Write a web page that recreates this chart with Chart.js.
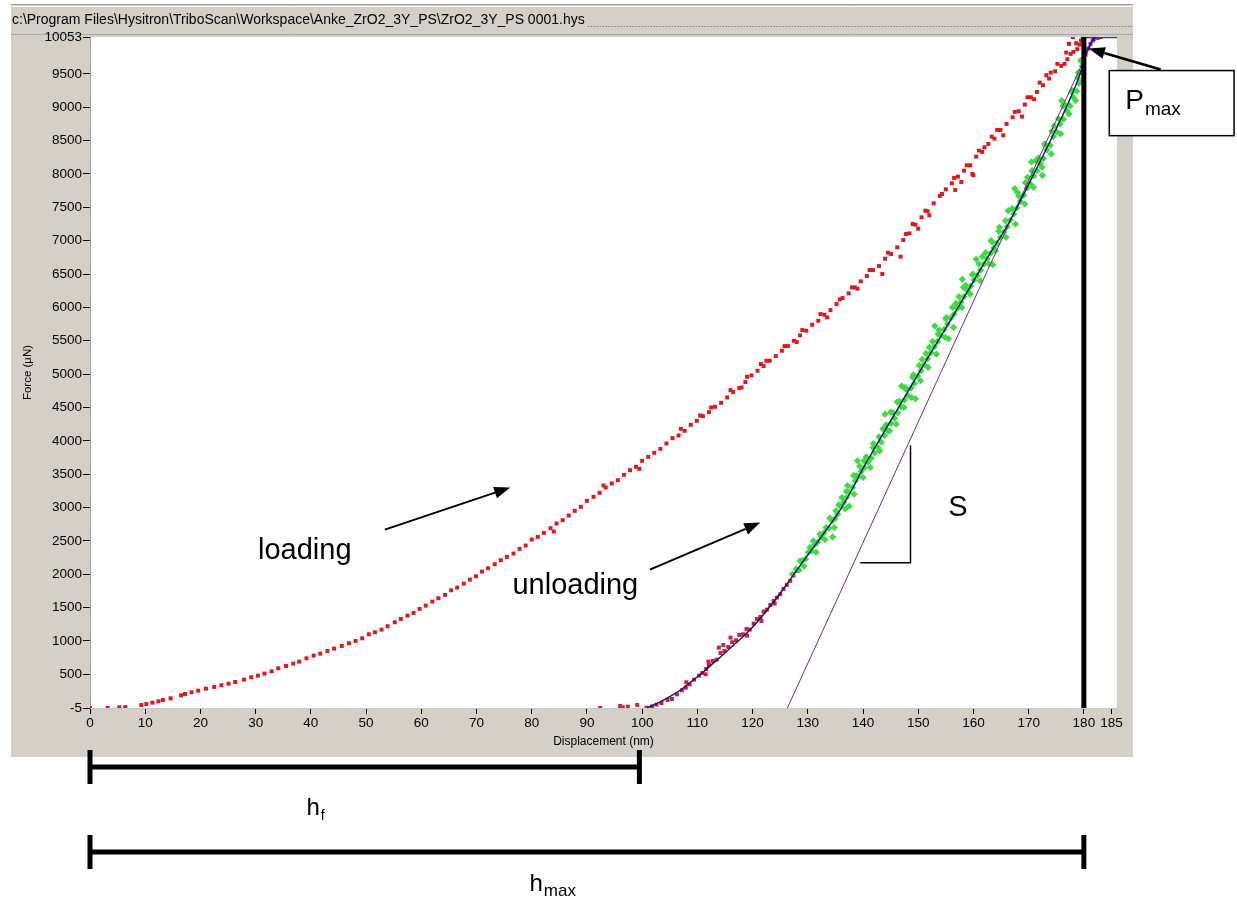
<!DOCTYPE html>
<html><head><meta charset="utf-8">
<script src="https://cdn.jsdelivr.net/npm/chart.js@4/dist/chart.umd.min.js"></script>
<style>html,body{margin:0;padding:0;background:#fff;overflow:hidden}canvas{display:block}</style>
</head><body>
<canvas id="c" width="1237" height="899"></canvas>
<script>
const titleText = 'c:\\Program Files\\Hysitron\\TriboScan\\Workspace\\Anke_ZrO2_3Y_PS\\ZrO2_3Y_PS 0001.hys';
const xTickLabels = [0,10,20,30,40,50,60,70,80,90,100,110,120,130,140,150,160,170,180,185];
const yTickLabels = [-5,500,1000,1500,2000,2500,3000,3500,4000,4500,5000,5500,6000,6500,7000,7500,8000,8500,9000,9500,10053];
const xRange = [0,186];
const yRange = [-5,10053];

const loadingPts = [[0,-5],[3.2,-5],[5.3,5],[6.4,10],[9.3,40],[10.2,55],[11.3,75],[12.4,95],[13.2,115],[14.6,140],[16.5,185],[17.2,205],[18.4,230],[19.6,255],[21.0,285],[22.5,310],[23.8,335],[25.1,360],[26.3,385],[27.9,420],[29.2,455],[30.4,480],[31.6,510],[32.9,545],[34.1,590],[35.5,625],[36.8,660],[37.9,690],[39.2,740],[40.5,780],[41.7,810],[43.0,850],[44.2,885],[45.6,925],[46.9,965],[48.1,1000],[49.3,1040],[50.5,1100],[51.6,1130],[52.8,1170],[53.9,1220],[55.2,1280],[56.3,1330],[57.5,1380],[58.6,1420],[59.7,1480],[60.8,1530],[62.0,1590],[63.1,1640],[64.3,1690],[65.4,1760],[66.5,1800],[67.7,1860],[68.8,1920],[69.9,1970],[71.0,2040],[72.1,2090],[73.3,2150],[74.4,2210],[75.5,2260],[76.7,2310],[77.8,2380],[78.9,2430],[80.0,2520],[81.1,2560],[82.2,2620],[83.4,2690],[84.5,2760],[85.6,2810],[86.7,2880],[87.8,2950],[88.9,3010],[90.0,3100],[91.2,3160],[92.3,3220],[93.4,3300],[94.5,3360],[95.6,3410],[96.7,3490],[97.8,3560],[98.9,3610],[100.0,3700],[101.1,3760],[102.2,3820],[103.3,3880],[104.4,3960],[105.5,4040],[106.6,4080],[107.7,4150],[108.8,4240],[109.9,4300],[111.0,4370],[112.1,4430],[113.2,4510],[114.3,4570],[115.4,4650],[116.5,4730],[117.6,4790],[118.7,4880],[119.8,4980],[120.9,5050],[122.0,5120],[123.1,5200],[124.2,5270],[125.3,5350],[126.4,5420],[127.5,5500],[128.6,5580],[129.7,5650],[130.8,5740],[131.9,5800],[133.0,5890],[134.1,5960],[135.2,6050],[136.3,6140],[137.4,6210],[138.5,6300],[139.6,6390],[140.7,6470],[141.8,6560],[142.9,6620],[144.0,6730],[145.1,6800],[146.2,6900],[147.3,7010],[148.4,7110],[149.5,7240],[150.6,7350],[151.7,7440],[152.8,7560],[153.9,7670],[155.0,7770],[156.1,7860],[157.2,7960],[158.3,8050],[159.4,8130],[160.5,8260],[161.6,8330],[162.7,8450],[163.8,8530],[164.9,8660],[166.0,8750],[167.1,8850],[168.2,8940],[169.3,9040],[170.4,9150],[171.5,9230],[172.6,9330],[173.7,9430],[174.8,9540],[175.9,9620],[177.0,9720],[178.1,9830],[179.2,9940],[180.0,10053],
[84.0,2640],[93.0,3330],[107.0,4180],[118.0,4800],[121.5,5150],[128.0,5480],[133.5,5850],[139.0,6280],[143.5,6500],[146.8,6760],[150.0,7180],[152.0,7380],[157.8,7880],[159.8,8000],[162.0,8400],[165.4,8580],[168.8,8860],[171.0,9120],[174.0,9520],[176.5,9650],[177.6,9800],[178.8,9870],[179.5,10000],[178.0,10053],[177.3,9950],[156.7,7760],[160.0,7980],[99.5,3580],[110.5,4380],
[112.5,4500],[116.0,4760],[119.0,4960],[122.5,5200],[125.8,5420],[129.0,5660],[132.3,5900],[135.8,6120],[138.0,6300],[141.2,6560],[144.5,6820],[147.8,7100],[149.0,7250],[151.3,7450],[154.3,7700],[156.5,7940],[158.8,8130],[161.0,8350],[163.3,8560],[164.3,8660],[167.5,8930],[169.8,9150],[172.0,9370],[173.2,9480],[175.2,9650],[176.8,9820],[178.6,9960],[179.8,10053]];

const unloadLowPts = [[92.4,-5],[96.0,25],[96.5,5],[97.4,15],[99.1,40],[100.8,0],[101.8,20],[102.6,45],[103.5,70],[104.6,115],[105.4,130],[106.3,200],[107.2,260],[107.9,300],[108.6,350],[109.4,420],[110.3,480],[110.9,520],[111.6,580],[112.1,640],[112.8,700],[113.5,720],[114.2,820],[114.9,850],[115.6,910],[116.3,980],[117.0,1010],[117.6,1090],[118.3,1100],[118.9,1180],[119.5,1170],[120.2,1260],[120.8,1330],[121.4,1360],[122.0,1440],[122.6,1470],[123.2,1540],[123.8,1600],[124.4,1650],[125.0,1700],[125.6,1780],[126.2,1840],[126.8,1900],[127.4,1980],[128.0,2050],[113.9,900],[116.0,1050],[119.0,1080],[111.5,500],[108.0,380],[121.6,1300],[124.0,1560],[114.7,940],[112.0,690]];

const unloadGreenPts = [[127.2,2000],[127.9,2080],[128.4,2060],[129.0,2200],[129.6,2230],[130.1,2330],[130.7,2350],[131.2,2440],[131.0,2500],[131.8,2480],[132.4,2560],[132.9,2620],[133.3,2700],[133.8,2690],[134.4,2800],[134.9,2830],[135.4,2900],[135.1,2950],[136.0,3010],[136.5,3080],[136.2,3150],[137.0,3150],[137.5,3230],[137.2,3330],[138.1,3300],[138.6,3400],[138.3,3480],[139.1,3460],[139.7,3540],[139.4,3620],[140.3,3600],[140.9,3680],[140.6,3760],[141.5,3740],[142.1,3820],[141.8,3900],[142.7,3900],[143.3,3980],[142.9,4060],[143.9,4080],[144.5,4150],[144.2,4240],[145.1,4260],[145.7,4340],[145.4,4420],[146.3,4420],[146.9,4510],[146.6,4590],[147.5,4610],[148.1,4680],[147.8,4770],[148.7,4790],[149.3,4860],[149.0,4950],[149.9,4970],[150.5,5050],[150.2,5130],[151.1,5140],[151.7,5230],[151.4,5310],[152.3,5320],[152.9,5410],[152.6,5490],[153.5,5490],[154.1,5580],[153.8,5660],[154.7,5670],[155.3,5750],[155.0,5830],[155.9,5840],[156.5,5900],[156.2,6000],[157.1,5990],[157.7,6080],[157.4,6160],[158.3,6160],[158.9,6250],[158.6,6330],[159.5,6320],[160.1,6410],[159.8,6490],[160.7,6480],[161.3,6560],[161.0,6650],[161.9,6650],[162.5,6730],[162.2,6820],[163.1,6810],[163.7,6890],[163.4,6980],[164.3,6960],[164.9,7050],[164.6,7140],[165.5,7130],[166.1,7210],[165.8,7300],[166.7,7310],[167.3,7400],[167.0,7480],[167.9,7490],[168.5,7590],[168.2,7670],[169.1,7680],[169.7,7790],[169.4,7870],[170.3,7850],[170.9,7970],[170.6,8050],[171.5,8050],[172.1,8160],[171.8,8240],[172.7,8230],[173.3,8360],[173.0,8440],[173.9,8430],[174.5,8560],[174.2,8640],[175.1,8630],[175.7,8750],[175.4,8830],[176.3,8820],[176.9,8950],[176.6,9030],[177.5,9020],[178.1,9150],[177.8,9230],[178.7,9240],[179.1,9360],[178.9,9440],[179.5,9520],[179.7,9620],[179.4,9700],
[134.5,2560],[139.0,3700],[144.0,4400],[149.5,4630],[153.0,5720],[158.0,6420],[163.5,6640],[167.5,7780],[172.5,7980],[176.0,9100],[170.5,8180],[160.5,6720],[155.5,5530],[147.0,4820],[137.5,3020],
[128.6,2200],[129.3,2120],[130.4,2400],[131.5,2330],[132.2,2600],[133.1,2520],[134.0,2840],[134.8,2700],[135.6,3040],[136.8,2980],[137.0,3240],[138.4,3200],[138.8,3480],[140.0,3450],[140.2,3700],[141.3,3600],[141.9,3960],[143.0,3850],[143.6,4180],[144.8,4150],[145.0,4430],[146.0,4250],[146.2,4580],[147.4,4500],[147.6,4800],[148.8,4650],[149.1,4990],[150.4,4900],[150.7,5220],[151.8,5100],[152.0,5400],[153.3,5300],[153.6,5600],[154.9,5550],[155.1,5850],[156.4,5700],[156.8,6060],[157.9,6000],[158.2,6300],[159.4,6200],[159.9,6500],[161.2,6400],[161.6,6760],[162.8,6650],[163.2,7000],[164.0,6850],[164.7,7200],[165.9,7050],[166.3,7450],[167.6,7250],[168.0,7720],[169.3,7550],[169.8,7950],[170.9,7800],[171.3,8200],[172.4,8100],[172.9,8450],[174.1,8300],[174.6,8720],[175.8,8600],[176.2,9020],[177.3,8900],[177.9,9250],[178.5,9100],[179.0,9520],[179.6,9380]];

const unloadTopPts = [[180.3,9790],[180.8,9880],[181.2,9950],[181.6,10000],[182.0,10053],[183.0,10053],[181.8,10020],[182.5,10040]];

const fitCurve = [[100.9,-5],[103,75],[105,165],[107,268],[109,395],[111,530],[113,675],[115,820],[117,970],[119,1122],[121,1300],[123.7,1572],[126,1830],[128,2060],[130,2290],[132,2510],[134,2740],[135.9,2970],[138,3270],[139.9,3571],[142.4,3931],[145.5,4370],[148,4720],[150,5000],[152,5280],[155.8,5800],[158,6110],[160,6390],[163,6810],[166.1,7220],[169,7680],[171,8010],[173,8340],[175,8680],[177,9030],[179.3,9500],[180.3,9790],[181.2,9950],[182,10053]];
const tangentLine = [[126.3,-5],[181.9,10053]];
const holdLine = [[179.6,10053],[186,10053]];
const hMax = 180, hFinal = 99.5, pMax = 10053;

const FONT = '"Liberation Sans", Arial, Helvetica, sans-serif';
const xy = a => a.map(p => ({x:p[0], y:p[1]}));

function arrow(ctx, x1, y1, x2, y2, lw, head, hw) {
  const a = Math.atan2(y2 - y1, x2 - x1);
  const bx = x2 - head * Math.cos(a), by = y2 - head * Math.sin(a);
  ctx.beginPath(); ctx.lineWidth = lw; ctx.moveTo(x1, y1); ctx.lineTo(bx, by); ctx.stroke();
  ctx.beginPath(); ctx.moveTo(x2, y2);
  ctx.lineTo(bx + hw * Math.sin(a), by - hw * Math.cos(a));
  ctx.lineTo(bx - hw * Math.sin(a), by + hw * Math.cos(a));
  ctx.closePath(); ctx.fill();
}
function subText(ctx, main, sub, x, y, ms, ss, drop) {
  ctx.font = ms + 'px ' + FONT; ctx.textAlign = 'left'; ctx.textBaseline = 'alphabetic';
  const w = ctx.measureText(main).width;
  ctx.fillText(main, x, y);
  ctx.font = ss + 'px ' + FONT;
  ctx.fillText(sub, x + w + 1, y + drop);
}

const panelPlugin = {
  id: 'panel',
  beforeDraw(chart) {
    const {ctx, chartArea: ca} = chart;
    ctx.save();
    ctx.fillStyle = '#fff'; ctx.fillRect(0, 0, chart.width, chart.height);
    ctx.fillStyle = '#d4d0c8'; ctx.fillRect(11, 4, 1122, 753);
    ctx.strokeStyle = '#9a9a9a'; ctx.lineWidth = 1;
    ctx.beginPath(); ctx.moveTo(11, 4.5); ctx.lineTo(1133, 4.5); ctx.stroke();
    ctx.strokeStyle = '#ffffff';
    ctx.beginPath(); ctx.moveTo(11, 6.5); ctx.lineTo(1133, 6.5); ctx.stroke();
    ctx.strokeStyle = '#a8a8a8';
    ctx.beginPath(); ctx.moveTo(11, ca.top - 2.5); ctx.lineTo(1133, ca.top - 2.5); ctx.stroke();
    ctx.fillStyle = '#000'; ctx.font = '14px ' + FONT; ctx.textBaseline = 'alphabetic'; ctx.textAlign = 'left';
    ctx.fillText(titleText, 12, 24);
    const tw = ctx.measureText(titleText).width;
    ctx.strokeStyle = '#555'; ctx.setLineDash([1, 2]);
    ctx.beginPath(); ctx.moveTo(12 + tw + 3, 26.5); ctx.lineTo(1133, 26.5); ctx.stroke();
    ctx.setLineDash([]);
    ctx.fillStyle = '#fff'; ctx.fillRect(ca.left, ca.top, ca.right - ca.left, ca.bottom - ca.top);
    ctx.restore();
  },
  afterDraw(chart) {
    const {ctx, chartArea: ca} = chart;
    const xs = chart.scales.x, ys = chart.scales.y;
    const X = v => xs.getPixelForValue(v), Y = v => ys.getPixelForValue(v);
    ctx.save();
    ctx.strokeStyle = '#000'; ctx.fillStyle = '#000'; ctx.lineCap = 'butt';
    ctx.lineWidth = 5;
    ctx.beginPath(); ctx.moveTo(X(hMax), Y(pMax)); ctx.lineTo(X(hMax), Y(yRange[0])); ctx.stroke();
    const bx1 = X(184.6), bx2 = X(207.2), by1 = Y(9550), by2 = Y(8574);
    ctx.fillStyle = '#fff'; ctx.fillRect(bx1, by1, bx2 - bx1, by2 - by1);
    ctx.lineWidth = 1.5; ctx.strokeRect(bx1, by1, bx2 - bx1, by2 - by1);
    ctx.fillStyle = '#000'; ctx.strokeStyle = '#000';
    arrow(ctx, X(193.9), by1 - 1, X(180.9), Y(9880), 2.5, 16, 6);
    subText(ctx, 'P', 'max', X(187.5), Y(8970), 28, 19, 6);
    ctx.font = '29px ' + FONT; ctx.textAlign = 'center'; ctx.textBaseline = 'middle';
    ctx.fillText('loading', X(38.9), Y(2354));
    ctx.fillText('unloading', X(87.9), Y(1828));
    arrow(ctx, X(53.4), Y(2669), X(76.1), Y(3300), 2, 16, 6);
    arrow(ctx, X(101.4), Y(2068), X(121.4), Y(2774), 2, 16, 6);
    ctx.lineWidth = 1.5;
    ctx.beginPath(); ctx.moveTo(X(148.6), Y(3931)); ctx.lineTo(X(148.6), Y(2174)); ctx.lineTo(X(139.5), Y(2174)); ctx.stroke();
    ctx.font = '29px ' + FONT; ctx.textAlign = 'center'; ctx.textBaseline = 'middle';
    ctx.fillText('S', X(157.2), Y(2999));
    const bar = (h0, h1, y) => {
      ctx.lineWidth = 5;
      ctx.beginPath(); ctx.moveTo(X(h0) - 2, y); ctx.lineTo(X(h1) + 2, y); ctx.stroke();
      ctx.beginPath(); ctx.moveTo(X(h0), y - 17); ctx.lineTo(X(h0), y + 17); ctx.stroke();
      ctx.beginPath(); ctx.moveTo(X(h1), y - 17); ctx.lineTo(X(h1), y + 17); ctx.stroke();
    };
    bar(0, hFinal, ca.bottom + 59);
    bar(0, hMax, ca.bottom + 144);
    subText(ctx, 'h', 'f', X(39.2), ca.bottom + 107, 24, 14, 5);
    subText(ctx, 'h', 'max', X(79.6), ca.bottom + 183, 24, 17, 5);
    ctx.restore();
  }
};

new Chart(document.getElementById('c'), {
  type: 'scatter',
  data: { datasets: [
    { label: 'fit', data: xy(fitCurve), showLine: true, borderColor: '#14147a', borderWidth: 1.4, pointRadius: 0, cubicInterpolationMode: 'monotone', order: 0 },
    { label: 'hold', data: xy(holdLine), showLine: true, borderColor: '#2a2aff', borderWidth: 2.5, pointRadius: 0, order: 1 },
    { label: 'tangent', data: xy(tangentLine), showLine: true, borderColor: '#7a2a80', borderWidth: 1, pointRadius: 0, order: 2 },
    { label: 'unload top', data: xy(unloadTopPts), pointStyle: 'rect', pointRadius: 2.8, borderWidth: 0, backgroundColor: '#8a1aa8', order: 3 },
    { label: 'unload green', data: xy(unloadGreenPts), pointStyle: 'rectRot', pointRadius: 3.6, borderWidth: 0, backgroundColor: '#3ddc3d', order: 4 },
    { label: 'unload low', data: xy(unloadLowPts), pointStyle: 'rect', pointRadius: 2.8, borderWidth: 0, backgroundColor: '#cf1f3c', order: 5 },
    { label: 'loading', data: xy(loadingPts), pointStyle: 'rect', pointRadius: 2.8, borderWidth: 0, backgroundColor: '#e2171b', order: 6 }
  ]},
  options: {
    responsive: false, animation: false, events: [],
    layout: { padding: { left: 12, top: 37, right: 120, bottom: 142 } },
    plugins: { legend: { display: false }, tooltip: { enabled: false }, title: { display: false } },
    scales: {
      x: {
        type: 'linear', min: xRange[0], max: xRange[1],
        afterBuildTicks: s => { s.ticks = xTickLabels.map(v => ({ value: v })); },
        afterFit: s => { s.height = 49; },
        grid: { drawOnChartArea: false, drawTicks: true, tickLength: 6, color: '#000', lineWidth: 1 },
        border: { display: true, color: '#c8c8c8' },
        ticks: { color: '#000', font: { family: FONT, size: 13.5 }, padding: 1, maxRotation: 0, autoSkip: false, callback: v => String(v) },
        title: { display: true, text: 'Displacement (nm)', color: '#000', font: { family: FONT, size: 12 }, padding: { top: 0, bottom: 8 } }
      },
      y: {
        type: 'linear', min: yRange[0], max: yRange[1],
        afterBuildTicks: s => { s.ticks = yTickLabels.map(v => ({ value: v })); },
        afterFit: s => { s.width = 78; },
        grid: { drawOnChartArea: false, drawTicks: true, tickLength: 7, color: '#000', lineWidth: 1 },
        border: { display: true, color: '#a0a0a0' },
        ticks: { color: '#000', font: { family: FONT, size: 13.5 }, padding: 1, autoSkip: false, callback: v => String(v) },
        title: { display: true, text: 'Force (µN)', color: '#000', font: { family: FONT, size: 11.5 }, padding: { top: 9, bottom: 0 } }
      }
    }
  },
  plugins: [panelPlugin]
});
</script>
</body></html>
